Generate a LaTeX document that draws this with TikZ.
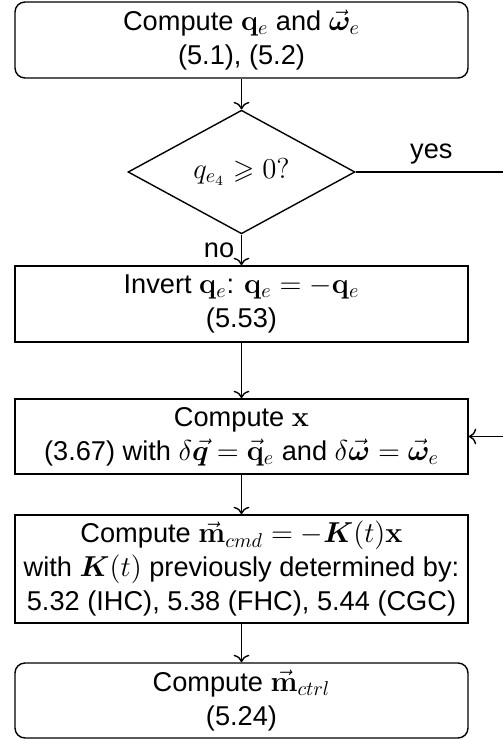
\documentclass[tikz,border=0pt]{standalone}
\usepackage{amsmath,amssymb,bm}
\usepackage[no-math]{fontspec}
\setmainfont{Liberation Sans}
\usetikzlibrary{shapes.geometric, positioning, arrows.meta}

\begin{document}
\begin{tikzpicture}[x=0.5pt, y=-0.5pt, font=\fontsize{13.6}{17}\selectfont, line width=0.7pt, >={To[scale=1.2]},
	block/.style={draw, minimum width=226.5pt, align=center, inner sep=0pt},
	rblock/.style={block, rounded corners=5pt},
	decision/.style={draw, diamond, minimum width=113.5pt, minimum height=50pt, inner sep=0pt}]
		
		\useasboundingbox (0,0) rectangle (503,740);
		
		%//steps top to bottom
		\node [rblock, minimum height=38pt] (qe) at (241.5,40) {Compute $\mathbf{q}_e$ and $\vec{\bm\omega}_e$\\(5.1), (5.2)};
		\node [decision] (test) at (241.5,172) {$q_{e_4} \geqslant 0?$};
		\node [block, minimum height=38pt] (inv) at (241.5,304) {Invert $\mathbf{q}_e$: $\mathbf{q}_e = -\mathbf{q}_e$\\(5.53)};
		\node [block, minimum height=37.5pt] (state) at (241.5,436.5) {Compute $\mathbf{x}$\\(3.67) with $\delta\vec{\bm q} = \vec{\mathbf{q}}_e$ and $\delta\vec{\bm\omega} = \vec{\bm\omega}_e$};
		\node [block, minimum height=54pt] (mcmd) at (241.5,569) {Compute $\vec{\mathbf{m}}_{cmd} = -\bm{K}(t)\mathbf{x}$\\with $\bm{K}(t)$ previously determined by:\\5.32 (IHC), 5.38 (FHC), 5.44 (CGC)};
		\node [rblock, minimum height=37.5pt] (mctrl) at (241.5,700.5) {Compute $\vec{\mathbf{m}}_{ctrl}$\\(5.24)};
		
		\coordinate (side) at (507,172);
		
		\draw [->] (qe) -- (test);
		\draw [->] (test) -- node [left] {no} (inv);
		\draw [->] (test.east) -- node [above] {yes} (side) |- (state.east);
		\draw [->] (inv) -- (state);
		\draw [->] (state) -- (mcmd);
		\draw [->] (mcmd) -- (mctrl);
		
\end{tikzpicture}
\end{document}
